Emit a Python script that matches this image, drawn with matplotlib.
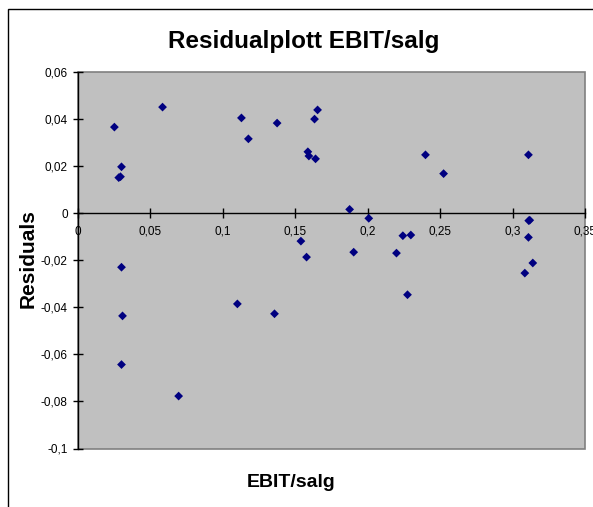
import matplotlib
matplotlib.use("Agg")
import matplotlib.pyplot as plt
from matplotlib.patches import Rectangle

plt.rcParams['font.family'] = ['Liberation Sans', 'DejaVu Sans']

ebit_salg = [0.0253, 0.0585, 0.0302, 0.0283, 0.0295, 0.1129, 0.1177, 0.1375,
             0.1654, 0.1633, 0.1587, 0.1594, 0.1640, 0.2398, 0.2523, 0.3108,
             0.1875, 0.2007, 0.3110, 0.3117, 0.1539, 0.2242, 0.2297, 0.3108,
             0.1578, 0.1903, 0.2198, 0.2274, 0.3138, 0.3083,
             0.0302, 0.0309, 0.0302, 0.0696, 0.1101, 0.1357]
residuals = [0.0367, 0.0452, 0.0198, 0.0152, 0.0156, 0.0406, 0.0317, 0.0384,
             0.0440, 0.0401, 0.0262, 0.0244, 0.0232, 0.0249, 0.0169, 0.0249,
             0.0017, -0.0021, -0.0031, -0.0029, -0.0118, -0.0095, -0.0092, -0.0102,
             -0.0186, -0.0165, -0.0169, -0.0346, -0.0211, -0.0254,
             -0.0229, -0.0436, -0.0643, -0.0777, -0.0385, -0.0427]

x_ticks = [0, 0.05, 0.1, 0.15, 0.2, 0.25, 0.3, 0.35]
x_tick_labels = ["0", "0,05", "0,1", "0,15", "0,2", "0,25", "0,3", "0,35"]
y_ticks = [-0.1, -0.08, -0.06, -0.04, -0.02, 0, 0.02, 0.04, 0.06]
y_tick_labels = ["-0,1", "-0,08", "-0,06", "-0,04", "-0,02", "0", "0,02", "0,04", "0,06"]

title = "Residualplott EBIT/salg"
x_label = "EBIT/salg"
y_label = "Residuals"

W, H = 593, 507
fig = plt.figure(figsize=(W / 100, H / 100), dpi=100)
fig.patch.set_facecolor('white')

# outer chart frame
fig.patches.append(Rectangle((7.5 / W, -0.1), 1.2, (H - 8.5) / H + 0.1,
                             transform=fig.transFigure, fill=False,
                             edgecolor='black', linewidth=1.0))

left, right = 77.7 / W, 585.3 / W
bottom, top = (H - 448.5) / H, (H - 72.3) / H
ax = fig.add_axes([left, bottom, right - left, top - bottom])
ax.set_facecolor('#C0C0C0')
ax.set_xlim(0, 0.35)
ax.set_ylim(-0.1, 0.06)

ax.scatter(ebit_salg, residuals, marker='D', s=20, color='#000080',
           edgecolors='none', zorder=3, clip_on=False)

# plot area border
ax.add_patch(Rectangle((0, 0), 1, 1, transform=ax.transAxes, fill=False,
                       edgecolor='#808080', linewidth=1.2, zorder=1, clip_on=False))

for s in ['top', 'right']:
    ax.spines[s].set_visible(False)
ax.spines['left'].set_color('black')
ax.spines['left'].set_linewidth(1.0)
ax.spines['left'].set_zorder(2)
ax.spines['bottom'].set_position(('data', 0))
ax.spines['bottom'].set_color('black')
ax.spines['bottom'].set_linewidth(1.0)
ax.spines['bottom'].set_zorder(2)

ax.set_xticks(x_ticks)
ax.set_xticklabels(x_tick_labels)
ax.set_yticks(y_ticks)
ax.set_yticklabels(y_tick_labels)
ax.tick_params(axis='both', direction='inout', length=6.5, width=1.0,
               colors='black', labelsize=8.5)
ax.tick_params(axis='x', pad=5.5)
ax.tick_params(axis='y', pad=4)

fig.text(303.3 / W, (H - 48.3) / H, title, ha='center', va='baseline',
         fontsize=17.5, fontweight='bold')
fig.text(291.5 / W, (H - 487.3) / H, x_label, ha='center', va='baseline',
         fontsize=14, fontweight='bold')
fig.text(37.7 / W, (H - 259) / H, y_label, ha='right', va='center',
         rotation=90, fontsize=15, fontweight='bold')

fig.savefig('out.png', dpi=100)
